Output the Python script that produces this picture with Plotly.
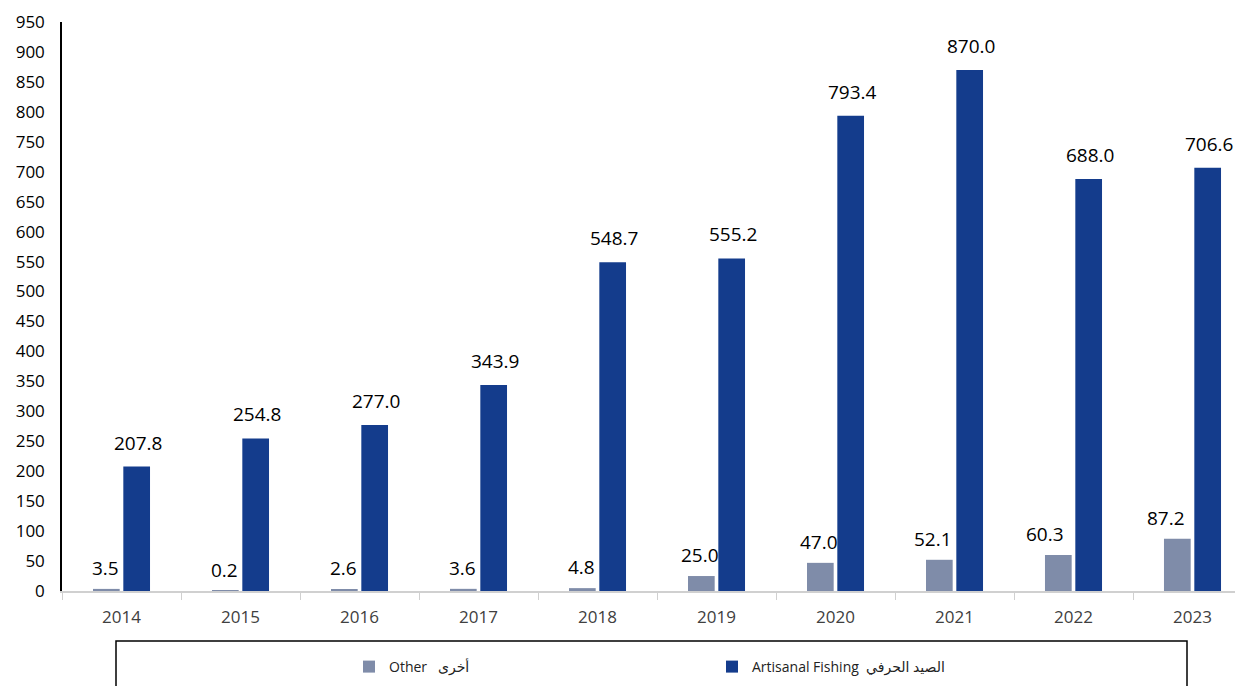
import plotly.graph_objects as go

years = ["2014", "2015", "2016", "2017", "2018", "2019", "2020", "2021", "2022", "2023"]
other = [3.5, 0.2, 2.6, 3.6, 4.8, 25.0, 47.0, 52.1, 60.3, 87.2]
artisanal = [207.8, 254.8, 277.0, 343.9, 548.7, 555.2, 793.4, 870.0, 688.0, 706.6]
name_other = "Other   أخرى"
name_art = "Artisanal Fishing  الصيد الحرفي"
y_ticks = list(range(0, 951, 50))

FONT = "Open Sans, DejaVu Sans, sans-serif"
C_OTHER = "#7F8CA9"
C_ART = "#143C8C"

# the page body has an 8px default margin; the figure is sized to compensate
W, H = 1235, 678
L, T, B = 54, 14, 95
PW, PH = W - L, H - T - B
CAT_PX = 119            # pixel width of one category
BAR_OFF = 16.5          # pixel offset of each bar centre from category centre
label_dx_other = [0, 0, 0, 0, 0, 0, 0, -5, -12, -10]   # small manual nudges seen in the source

fig = go.Figure()
fig.add_trace(go.Bar(
    x=years, y=other, name=name_other,
    marker=dict(color=C_OTHER, line=dict(width=0)),
))
fig.add_trace(go.Bar(
    x=years, y=artisanal, name=name_art,
    marker=dict(color=C_ART, line=dict(width=0)),
))

annotations = []
for i, yr in enumerate(years):
    # on a category axis, annotation x uses the category's serial index
    annotations.append(dict(
        x=i, y=other[i], xref="x", yref="y", text=f"{other[i]:.1f}",
        showarrow=False, xshift=-BAR_OFF + label_dx_other[i], yshift=21,
        yanchor="middle", xanchor="center",
        font=dict(size=19, color="black", family=FONT),
    ))
    annotations.append(dict(
        x=i, y=artisanal[i], xref="x", yref="y", text=f"{artisanal[i]:.1f}",
        showarrow=False, xshift=BAR_OFF, yshift=24,
        yanchor="middle", xanchor="center",
        font=dict(size=19, color="black", family=FONT),
    ))

fig.update_layout(
    width=W, height=H,
    margin=dict(l=L, r=0, t=T, b=B),
    paper_bgcolor="white", plot_bgcolor="white",
    barmode="group", bargap=0.49, bargroupgap=0.12,
    font=dict(family=FONT, color="black"),
    showlegend=True,
    legend=dict(
        orientation="h", x=(349 - 62) / PW, xanchor="left", y=(591 - 667) / PH, yanchor="middle",
        font=dict(size=14, color="#222222", family=FONT),
        entrywidth=318, entrywidthmode="pixels",
        bgcolor="rgba(0,0,0,0)", itemsizing="constant", itemwidth=30,
    ),
    xaxis=dict(
        type="category", range=[-0.5, -0.5 + PW / CAT_PX],
        showline=True, linecolor="#D0D0D0", linewidth=1.5,
        ticks="outside", tickson="boundaries", ticklen=7, tickcolor="#D0D0D0",
        tickfont=dict(size=17, color="#404040", family=FONT),
        ticklabelstandoff=10,
        showgrid=False, zeroline=False,
    ),
    yaxis=dict(
        range=[0, 950], tickvals=y_ticks,
        showline=True, linecolor="black", linewidth=1.5,
        ticks="", ticklabelstandoff=12,
        tickfont=dict(size=17, color="black", family=FONT),
        showgrid=False, zeroline=False,
    ),
    annotations=annotations,
    shapes=[dict(
        type="rect", xref="paper", yref="paper",
        x0=(116 - 62) / PW, x1=(1187 - 62) / PW,
        y0=(591 - 641) / PH, y1=(591 - 700) / PH,
        line=dict(color="black", width=1.5), fillcolor="rgba(0,0,0,0)",
    )],
)

fig.write_html("out.html")
